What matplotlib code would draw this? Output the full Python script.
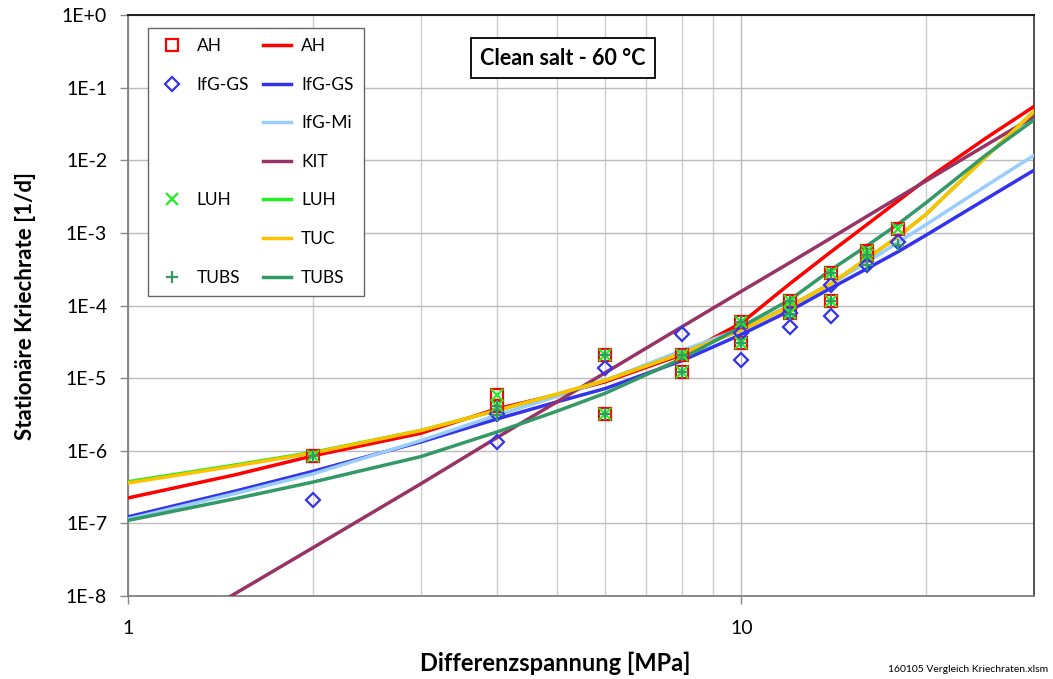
import matplotlib.pyplot as plt
from matplotlib.lines import Line2D
from matplotlib.ticker import FixedLocator, NullFormatter

plt.rcParams['font.family'] = ['Lato', 'DejaVu Sans']

# --- stress levels of the lab tests and steady-state creep rates [1/d] ---
x_ah = [2, 4, 4, 6, 6, 8, 8, 10, 10, 12, 12, 14, 14, 16, 16, 18]
rate_ah = [8.6e-7, 5.9e-6, 4.2e-6, 2.1e-5, 3.2e-6, 2.1e-5, 1.2e-5, 6.0e-5,
           3.0e-5, 1.15e-4, 7.9e-5, 2.8e-4, 1.15e-4, 5.6e-4, 4.9e-4, 1.12e-3]
x_luh = x_ah
rate_luh = rate_ah
x_tubs = x_ah
rate_tubs = [8.6e-7, 3.1e-6, 4.2e-6, 2.1e-5, 3.2e-6, 2.1e-5, 1.2e-5, 6.0e-5,
             3.0e-5, 1.15e-4, 7.6e-5, 2.8e-4, 1.15e-4, 4.9e-4, 3.6e-4, 6.8e-4]
x_ifg = [2, 4, 4, 6, 8, 10, 10, 12, 12, 14, 14, 16, 18]
rate_ifg = [2.1e-7, 3.2e-6, 1.3e-6, 1.4e-5, 4.1e-5, 4.2e-5, 1.75e-5, 8.0e-5,
            5.0e-5, 1.9e-4, 7.2e-5, 3.6e-4, 7.5e-4]

# --- model curves ---
x_model = [1, 1.5, 2, 3, 4, 5, 6, 8, 10, 12, 14, 16, 18, 20, 25, 30]
model_ah = [2.24e-7, 4.7e-7, 8.5e-7, 1.74e-6, 3.8e-6, 5.9e-6, 8.9e-6, 2.1e-5,
            5.75e-5, 2.0e-4, 5.5e-4, 1.29e-3, 2.75e-3, 5.4e-3, 2.0e-2, 5.5e-2]
model_ifg_gs = [1.23e-7, 2.8e-7, 5.2e-7, 1.32e-6, 2.75e-6, 4.7e-6, 7.2e-6, 1.74e-5,
                4.0e-5, 8.5e-5, 1.74e-4, 3.2e-4, 5.5e-4, 9.3e-4, 2.9e-3, 7.3e-3]
model_ifg_mi = [1.15e-7, 2.6e-7, 4.8e-7, 1.38e-6, 3.1e-6, 5.6e-6, 9.3e-6, 2.4e-5,
                4.8e-5, 1.0e-4, 2.0e-4, 3.9e-4, 7.4e-4, 1.3e-3, 4.4e-3, 1.17e-2]
model_kit = [1.4e-9, 1.1e-8, 4.6e-8, 3.5e-7, 1.53e-6, 4.7e-6, 1.19e-5, 5.1e-5,
             1.57e-4, 3.9e-4, 8.5e-4, 1.68e-3, 3.05e-3, 5.2e-3, 1.6e-2, 4.0e-2]
model_luh = [3.75e-7, 6.4e-7, 9.5e-7, 1.9e-6, 3.6e-6, 6.0e-6, 9.3e-6, 2.2e-5,
             4.6e-5, 9.8e-5, 2.0e-4, 4.4e-4, 8.9e-4, 1.8e-3, 1.1e-2, 4.7e-2]
model_tuc = [3.6e-7, 6.2e-7, 9.3e-7, 1.9e-6, 3.6e-6, 6.0e-6, 9.3e-6, 2.2e-5,
             4.6e-5, 9.8e-5, 2.0e-4, 4.4e-4, 8.9e-4, 1.8e-3, 1.1e-2, 4.7e-2]
model_tubs = [1.1e-7, 2.2e-7, 3.7e-7, 8.3e-7, 1.82e-6, 3.5e-6, 6.2e-6, 1.86e-5,
              5.1e-5, 1.2e-4, 3.1e-4, 6.6e-4, 1.32e-3, 2.6e-3, 1.17e-2, 3.6e-2]

y_ticks = [1e0, 1e-1, 1e-2, 1e-3, 1e-4, 1e-5, 1e-6, 1e-7, 1e-8]
y_tick_labels = ['1E+0', '1E-1', '1E-2', '1E-3', '1E-4', '1E-5', '1E-6', '1E-7', '1E-8']
x_ticks = [1, 10]
x_tick_labels = ['1', '10']

C_AH = '#FF0000'
C_IFG = '#3333EE'
C_MI = '#99CCFF'
C_KIT = '#993366'
C_LUH = '#22EE22'
C_TUC = '#FFC000'
C_TUBS = '#339966'

fig = plt.figure(figsize=(10.53, 6.79), dpi=100)
ax = fig.add_axes([0.1216, 0.1222, 0.8604, 0.8557])
ax.set_xscale('log')
ax.set_yscale('log')
ax.set_xlim(1, 30)
ax.set_ylim(1e-8, 1)

lw = 2.5
ax.plot(x_model, model_ah, color=C_AH, lw=lw, zorder=3)
ax.plot(x_model, model_ifg_gs, color=C_IFG, lw=lw, zorder=3)
ax.plot(x_model, model_ifg_mi, color=C_MI, lw=lw, zorder=3)
ax.plot(x_model, model_kit, color=C_KIT, lw=lw, zorder=3)
ax.plot(x_model, model_luh, color=C_LUH, lw=lw, zorder=3)
ax.plot(x_model, model_tuc, color=C_TUC, lw=lw, zorder=3)
ax.plot(x_model, model_tubs, color=C_TUBS, lw=lw, zorder=3)

ms = 8.5
ax.plot(x_ah, rate_ah, ls='none', marker='s', ms=ms, mfc='none', mec=C_AH, mew=1.6, zorder=4)
ax.plot(x_ifg, rate_ifg, ls='none', marker='D', ms=7, mfc='none', mec=C_IFG, mew=1.6, zorder=4)
ax.plot(x_luh, rate_luh, ls='none', marker='x', ms=ms, mec=C_LUH, mew=1.6, zorder=5)
ax.plot(x_tubs, rate_tubs, ls='none', marker='+', ms=ms, mec=C_TUBS, mew=1.6, zorder=5)

# grid and axes
ax.xaxis.set_major_locator(FixedLocator(x_ticks))
ax.xaxis.set_minor_locator(FixedLocator([2, 3, 4, 5, 6, 7, 8, 9, 20]))
ax.xaxis.set_minor_formatter(NullFormatter())
ax.set_xticklabels(x_tick_labels)
ax.yaxis.set_major_locator(FixedLocator(y_ticks))
ax.yaxis.set_minor_locator(FixedLocator([]))
ax.set_yticklabels(y_tick_labels)
ax.grid(True, which='major', color='#BBBBBB', lw=1.0, zorder=0)
ax.grid(True, which='minor', axis='x', color='#CCCCCC', lw=1.0, zorder=0)
ax.tick_params(which='major', length=6, width=1, color='#888888', labelsize=14)
ax.tick_params(which='minor', length=0)
ax.tick_params(axis='y', pad=9)
ax.tick_params(axis='x', pad=11)
ax.spines['left'].set_color('#808080')
ax.spines['bottom'].set_color('#808080')
ax.spines['top'].set_color('#111111')
ax.spines['right'].set_color('#444444')
for s in ax.spines.values():
    s.set_linewidth(1.3)

ax.set_xlabel('Differenzspannung [MPa]', fontsize=17, fontweight='bold')
ax.xaxis.set_label_coords(0.471, -0.095)
ax.set_ylabel('Stationäre Kriechrate [1/d]', fontsize=16, fontweight='bold', labelpad=19)

ax.text(0.48, 0.926, 'Clean salt - 60 °C', transform=ax.transAxes, ha='center', va='center',
        fontsize=15.5, fontweight='bold', zorder=6,
        bbox=dict(boxstyle='square,pad=0.42', fc='white', ec='black', lw=1.3))

# legend: markers in the first column, model curves in the second
blank = Line2D([], [], ls='none')
handles = [
    Line2D([], [], ls='none', marker='s', ms=ms, mfc='none', mec=C_AH, mew=1.6),
    Line2D([], [], ls='none', marker='D', ms=7, mfc='none', mec=C_IFG, mew=1.6),
    blank, blank,
    Line2D([], [], ls='none', marker='x', ms=ms, mec=C_LUH, mew=1.6),
    blank,
    Line2D([], [], ls='none', marker='+', ms=ms, mec=C_TUBS, mew=1.6),
    Line2D([], [], color=C_AH, lw=lw),
    Line2D([], [], color=C_IFG, lw=lw),
    Line2D([], [], color=C_MI, lw=lw),
    Line2D([], [], color=C_KIT, lw=lw),
    Line2D([], [], color=C_LUH, lw=lw),
    Line2D([], [], color=C_TUC, lw=lw),
    Line2D([], [], color=C_TUBS, lw=lw),
]
labels = ['AH', 'IfG-GS', '', '', 'LUH', '', 'TUBS',
          'AH', 'IfG-GS', 'IfG-Mi', 'KIT', 'LUH', 'TUC', 'TUBS']
leg = ax.legend(handles, labels, ncol=2, loc='upper left', bbox_to_anchor=(0.022, 0.978),
                borderaxespad=0, fontsize=12.5, labelspacing=1.3, handlelength=1.6,
                columnspacing=0.8, handletextpad=0.6, borderpad=0.6,
                fancybox=False, framealpha=1, edgecolor='#666666')
leg.get_frame().set_linewidth(1.0)
leg.set_zorder(7)

fig.text(888 / 1053, 1 - 670 / 679, '160105 Vergleich Kriechraten.xlsm', fontsize=7.5,
         ha='left', va='center')

fig.savefig('out.png', dpi=100, facecolor='white')
